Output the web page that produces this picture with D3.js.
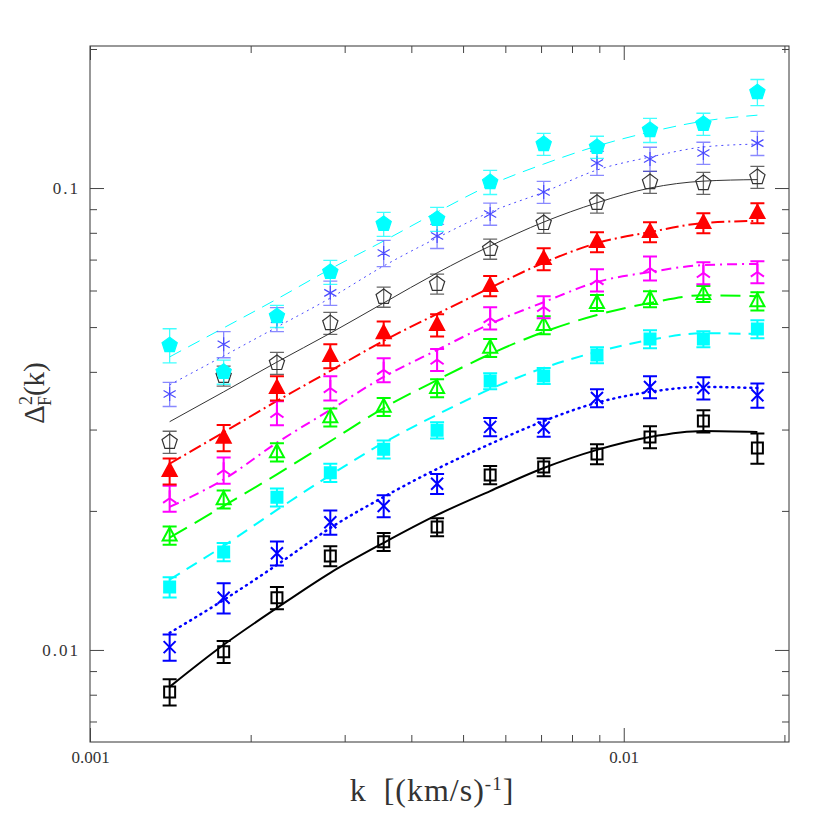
<!DOCTYPE html>
<html>
<head>
<meta charset="utf-8">
<script src="https://cdn.jsdelivr.net/npm/d3@7"></script>
<style>
  body { margin: 0; background: #fff; }
  text { font-family: "Liberation Serif", "DejaVu Serif", serif; fill: #333; }
</style>
</head>
<body>
<script>
  var width = 830;
  var height = 830;

  // k values (km/s)^-1
  var kVals = [0.00141, 0.00178, 0.00224, 0.00282, 0.00355, 0.00447, 0.00562, 0.00708, 0.00891, 0.0112, 0.0141, 0.0178];

  // measured points, model curves and relative errors, top to bottom
  var cyanPentPts   = [0.0457, 0.0400, 0.0528, 0.0658, 0.0836, 0.0857, 0.1030, 0.1245, 0.1227, 0.1335, 0.1376, 0.1613];
  var cyanPentModel = [0.0431, 0.0498, 0.0575, 0.0668, 0.0768, 0.0887, 0.1015, 0.1127, 0.1233, 0.1322, 0.1396, 0.1438];
  var cyanPentErr   = [0.085, 0.060, 0.055, 0.060, 0.060, 0.060, 0.060, 0.055, 0.055, 0.060, 0.055, 0.065];

  var starPts   = [0.0358, 0.0459, 0.0520, 0.0593, 0.0723, 0.0787, 0.0879, 0.0980, 0.1133, 0.1156, 0.1191, 0.1251];
  var starModel = [0.0375, 0.0433, 0.0500, 0.0578, 0.0678, 0.0780, 0.0887, 0.0980, 0.1094, 0.1167, 0.1227, 0.1245];
  var starErr   = [0.060, 0.065, 0.060, 0.060, 0.065, 0.060, 0.055, 0.055, 0.060, 0.060, 0.055, 0.060];

  var pentPts   = [0.0282, 0.0392, 0.0418, 0.0510, 0.0581, 0.0620, 0.0738, 0.0840, 0.0929, 0.1030, 0.1025, 0.1056];
  var pentModel = [0.0312, 0.0362, 0.0420, 0.0485, 0.0564, 0.0655, 0.0749, 0.0844, 0.0929, 0.1000, 0.1035, 0.1043];
  var pentErr   = [0.055, 0.050, 0.055, 0.055, 0.050, 0.050, 0.050, 0.050, 0.050, 0.055, 0.055, 0.055];

  var redTriPts   = [0.0244, 0.0288, 0.0369, 0.0433, 0.0485, 0.0505, 0.0614, 0.0702, 0.0764, 0.0803, 0.0840, 0.0883];
  var redTriModel = [0.0253, 0.0296, 0.0346, 0.0402, 0.0467, 0.0534, 0.0608, 0.0689, 0.0760, 0.0803, 0.0840, 0.0849];
  var redTriErr   = [0.065, 0.065, 0.060, 0.060, 0.060, 0.055, 0.050, 0.055, 0.050, 0.050, 0.050, 0.050];

  var magPts   = [0.0213, 0.0245, 0.0326, 0.0369, 0.0404, 0.0425, 0.0523, 0.0553, 0.0632, 0.0671, 0.0655, 0.0658];
  var magModel = [0.0204, 0.0234, 0.0281, 0.0331, 0.0390, 0.0446, 0.0508, 0.0566, 0.0626, 0.0658, 0.0681, 0.0685];
  var magErr   = [0.065, 0.065, 0.060, 0.060, 0.060, 0.055, 0.055, 0.055, 0.055, 0.060, 0.055, 0.055];

  var greenTriPts   = [0.0177, 0.0212, 0.0268, 0.0319, 0.0336, 0.0369, 0.0451, 0.0505, 0.0564, 0.0575, 0.0590, 0.0569];
  var greenTriModel = [0.0175, 0.0205, 0.0240, 0.0283, 0.0334, 0.0384, 0.0437, 0.0488, 0.0531, 0.0564, 0.0586, 0.0583];
  var greenTriErr   = [0.045, 0.045, 0.045, 0.045, 0.045, 0.045, 0.045, 0.045, 0.040, 0.040, 0.040, 0.045];

  var cyanSqPts   = [0.01368, 0.0163, 0.0214, 0.0242, 0.0272, 0.0299, 0.0382, 0.0392, 0.0435, 0.0471, 0.0471, 0.0495];
  var cyanSqModel = [0.0142, 0.0168, 0.0201, 0.0239, 0.0281, 0.0323, 0.0367, 0.0408, 0.0442, 0.0469, 0.0485, 0.0483];
  var cyanSqErr   = [0.050, 0.045, 0.045, 0.045, 0.045, 0.040, 0.040, 0.040, 0.040, 0.045, 0.040, 0.045];

  var blueXPts   = [0.01014, 0.01297, 0.0162, 0.0189, 0.0205, 0.0229, 0.0304, 0.0303, 0.0351, 0.0371, 0.0369, 0.0356];
  var blueXModel = [0.01089, 0.01283, 0.01528, 0.01837, 0.02144, 0.02466, 0.02792, 0.0313, 0.0343, 0.0362, 0.0371, 0.0369];
  var blueXErr   = [0.065, 0.075, 0.060, 0.060, 0.055, 0.050, 0.045, 0.045, 0.045, 0.055, 0.055, 0.060];

  var blackSqPts   = [0.00811, 0.00991, 0.01297, 0.01597, 0.01714, 0.01845, 0.02393, 0.02489, 0.02655, 0.02891, 0.0313, 0.02735];
  var blackSqModel = [0.00832, 0.01026, 0.01233, 0.01469, 0.01706, 0.01960, 0.02208, 0.02477, 0.02711, 0.02891, 0.02979, 0.02963];
  var blackSqErr   = [0.065, 0.055, 0.055, 0.050, 0.045, 0.045, 0.045, 0.045, 0.050, 0.055, 0.055, 0.075];

  var xMajor = [0.001, 0.01];
  var xMajorLabels = ["0.001", "0.01"];
  var xMinor = [0.002, 0.003, 0.004, 0.005, 0.006, 0.007, 0.008, 0.009, 0.02];
  var yMajor = [0.01, 0.1];
  var yMajorLabels = ["0.01", "0.1"];
  var yMinor = [0.007, 0.008, 0.009, 0.02, 0.03, 0.04, 0.05, 0.06, 0.07, 0.08, 0.09, 0.2];

  var plotL = 90, plotR = 789, plotT = 46, plotB = 742;

  var x = d3.scaleLog().domain([0.001, 0.0204]).range([plotL, plotR]);
  var y = d3.scaleLog().domain([0.00632, 0.203]).range([plotB, plotT]);

  var svg = d3.select("body")
    .append("svg")
    .attr("width", width)
    .attr("height", height);

  // series styles (drawn bottom first)
  var series = [
    { pts: blackSqPts, model: blackSqModel, err: blackSqErr, color: "#000", lw: 2, dash: null, marker: "sqOpen", cap: 1 },
    { pts: blueXPts, model: blueXModel, err: blueXErr, color: "#0000ff", lw: 2.5, dash: "1,5", marker: "cross", cap: 1 },
    { pts: cyanSqPts, model: cyanSqModel, err: cyanSqErr, color: "#00ffff", lw: 2, dash: "12,8", marker: "sqFill", cap: 1 },
    { pts: greenTriPts, model: greenTriModel, err: greenTriErr, color: "#00ff00", lw: 2, dash: "20,9", marker: "triOpen", cap: 1 },
    { pts: magPts, model: magModel, err: magErr, color: "#ff00ff", lw: 2, dash: "10,5,2,5", marker: "tri3", cap: 1 },
    { pts: redTriPts, model: redTriModel, err: redTriErr, color: "#ff0000", lw: 2, dash: "13,4,2,4", marker: "triFill", cap: 1 },
    { pts: pentPts, model: pentModel, err: pentErr, color: "#333", lw: 1, dash: null, marker: "pentOpen", cap: 0.75 },
    { pts: starPts, model: starModel, err: starErr, color: "#4a4aff", lw: 1, dash: "2,4", marker: "star", cap: 0.65 },
    { pts: cyanPentPts, model: cyanPentModel, err: cyanPentErr, color: "#00ffff", lw: 1, dash: "13,8", marker: "pentFill", cap: 0.75 }
  ];

  // frame
  svg.append("rect")
    .attr("x", plotL).attr("y", plotT)
    .attr("width", plotR - plotL).attr("height", plotB - plotT)
    .style("fill", "none")
    .style("stroke", "#333")
    .style("stroke-width", 1);

  function addTicks(axisFn, scale, vals, len, tr, labels) {
    var ax = axisFn(scale)
      .tickValues(vals)
      .tickSizeInner(-len)
      .tickSizeOuter(0)
      .tickPadding(labels ? 9 : 0)
      .tickFormat(function(d, i) { return labels ? labels[i] : ""; });
    var g = svg.append("g")
      .attr("transform", tr)
      .call(ax);
    g.select(".domain").remove();
    g.selectAll(".tick line").style("stroke", "#444");
    g.selectAll("text")
      .style("font-family", "'Liberation Serif', serif")
      .style("font-size", "17px")
      .style("fill", "#333");
    return g;
  }

  addTicks(d3.axisBottom, x, xMajor, 14, "translate(0," + plotB + ")", xMajorLabels);
  addTicks(d3.axisBottom, x, xMinor, 7, "translate(0," + plotB + ")");
  addTicks(d3.axisTop, x, xMajor, 14, "translate(0," + plotT + ")");
  addTicks(d3.axisTop, x, xMinor, 7, "translate(0," + plotT + ")");
  addTicks(d3.axisLeft, y, yMajor, 14, "translate(" + plotL + ",0)", yMajorLabels)
    .selectAll("text").style("letter-spacing", "2px").attr("x", -10);
  addTicks(d3.axisLeft, y, yMinor, 7, "translate(" + plotL + ",0)");
  addTicks(d3.axisRight, y, yMajor, 14, "translate(" + plotR + ",0)");
  addTicks(d3.axisRight, y, yMinor, 7, "translate(" + plotR + ",0)");

  // model curves
  var line = d3.line()
    .x(function(d) { return x(d[0]); })
    .y(function(d) { return y(d[1]); })
    .curve(d3.curveMonotoneX);

  series.forEach(function(s) {
    svg.append("path")
      .datum(kVals.map(function(k, i) { return [k, s.model[i]]; }))
      .attr("d", line)
      .style("fill", "none")
      .style("stroke", s.color)
      .style("stroke-width", s.lw)
      .style("stroke-linecap", s.dash === "1,5" ? "round" : "butt")
      .style("stroke-dasharray", s.dash);
  });

  // marker shapes
  function pentagon(r) {
    var p = [];
    for (var i = 0; i < 5; i++) {
      var a = -Math.PI / 2 + i * 2 * Math.PI / 5;
      p.push([r * Math.cos(a), r * Math.sin(a)]);
    }
    return "M" + p.join("L") + "Z";
  }
  function spokes(r, angles) {
    return angles.map(function(a) {
      var t = a * Math.PI / 180;
      return "M0,0L" + (r * Math.cos(t)) + "," + (-r * Math.sin(t));
    }).join("");
  }
  var markerPath = {
    pentFill: pentagon(8),
    pentOpen: pentagon(8),
    star: spokes(7, [90, 270, 30, 210, 150, 330]),
    triFill: "M0,-8L7,5L-7,5Z",
    triOpen: "M0,-8L7,5L-7,5Z",
    tri3: spokes(8, [90, 215, 325]),
    sqFill: "M-5.5,-5.5H5.5V5.5H-5.5Z",
    sqOpen: "M-5.5,-5.5H5.5V5.5H-5.5Z",
    cross: "M-6,-6L6,6M-6,6L6,-6"
  };
  var filled = { pentFill: true, triFill: true, sqFill: true };

  series.forEach(function(s) {
    var g = svg.append("g");
    var pts = kVals.map(function(k, i) { return { k: k, v: s.pts[i], e: s.err[i] }; });

    g.selectAll(".eb")
      .data(pts)
      .enter()
      .append("path")
      .attr("d", function(d) {
        var cx = x(d.k), y1 = y(d.v * (1 + d.e)), y2 = y(d.v * (1 - d.e));
        return "M" + cx + "," + y1 + "V" + y2 +
          "M" + (cx - 7) + "," + y1 + "H" + (cx + 7) +
          "M" + (cx - 7) + "," + y2 + "H" + (cx + 7);
      })
      .style("fill", "none")
      .style("stroke", s.color)
      .style("stroke-opacity", s.cap)
      .style("stroke-width", s.lw === 1 ? 1.3 : 2);

    g.selectAll(".mk")
      .data(pts)
      .enter()
      .append("path")
      .attr("transform", function(d) { return "translate(" + x(d.k) + "," + y(d.v) + ")"; })
      .attr("d", markerPath[s.marker])
      .style("fill", filled[s.marker] ? s.color : "none")
      .style("stroke", s.color)
      .style("stroke-width", s.lw === 1 ? 1.2 : 2)
      .style("stroke-linejoin", "miter");
  });

  // axis titles
  var xl = svg.append("text")
    .attr("x", 432)
    .attr("y", 801)
    .attr("text-anchor", "middle")
    .style("font-size", "32px")
    .style("letter-spacing", "1px")
    .style("fill", "#333")
    .style("word-spacing", "8px");
  xl.append("tspan").text("k [(km/s)");
  xl.append("tspan").attr("dy", -11).style("font-size", "19px").text("-1");
  xl.append("tspan").attr("dy", 11).text("]");

  var yl = svg.append("text")
    .attr("transform", "translate(44,393) rotate(-90)")
    .attr("text-anchor", "middle")
    .style("font-size", "29px")
    .style("fill", "#333");
  yl.append("tspan").text("\u0394");
  yl.append("tspan").attr("dy", -12).style("font-size", "18px").text("2");
  yl.append("tspan").attr("dx", -10).attr("dy", 19).style("font-size", "18px").text("F");
  yl.append("tspan").attr("dy", -7).text("(k)");
</script>
</body>
</html>
